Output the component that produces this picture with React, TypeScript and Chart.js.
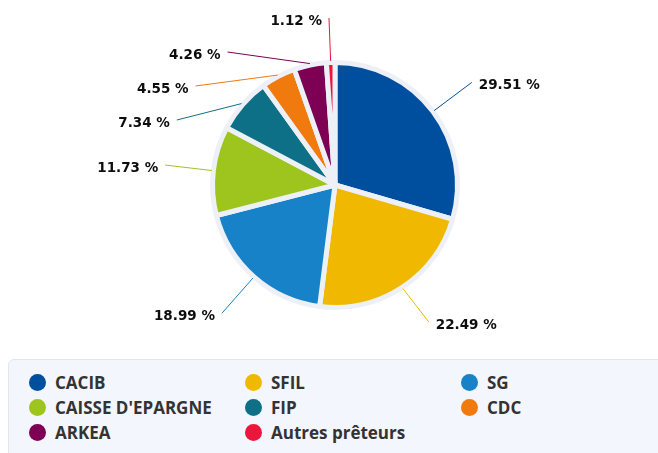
import React, { useEffect, useRef } from "react";
import { Chart, registerables } from "chart.js";

Chart.register(...registerables);

const categories = [
  "CACIB",
  "SFIL",
  "SG",
  "CAISSE D'EPARGNE",
  "FIP",
  "CDC",
  "ARKEA",
  "Autres prêteurs",
];
const shares = [29.51, 22.49, 18.99, 11.73, 7.34, 4.55, 4.26, 1.12];
const sliceColors = [
  "#004e9e",
  "#f0b900",
  "#1882c8",
  "#9ec41e",
  "#0e7086",
  "#f07a0e",
  "#7d0055",
  "#eb163c",
];
const valueLabels = shares.map((v) => v.toFixed(2) + " %");

const RING = "#edf0f6";

const ringPlugin = {
  id: "ringBg",
  beforeDatasetsDraw(chart: any) {
    const arc: any = chart.getDatasetMeta(0).data[0];
    if (!arc) return;
    const ctx = chart.ctx;
    ctx.save();
    ctx.beginPath();
    ctx.arc(arc.x, arc.y, arc.outerRadius + 1.5, 0, Math.PI * 2);
    ctx.fillStyle = RING;
    ctx.fill();
    ctx.restore();
  },
};

const labelPlugin = {
  id: "outsideLabels",
  afterDatasetsDraw(chart: any) {
    const meta = chart.getDatasetMeta(0);
    const ctx = chart.ctx;
    const top = 10;
    const bottom = 314;
    const gap = 34;
    const items = meta.data.map((arc: any, i: number) => {
      const mid = (arc.startAngle + arc.endAngle) / 2;
      const cx = arc.x;
      const cy = arc.y;
      const rEdge = arc.outerRadius + 1.5;
      const rLab = arc.outerRadius + 48.5;
      const c = Math.cos(mid);
      const s = Math.sin(mid);
      return {
        i,
        cx,
        cy,
        rLab,
        sx: cx + c * rEdge,
        sy: cy + s * rEdge,
        nx: cx + c * rLab,
        ny: cy + s * rLab,
        left: c < 0,
        y: 0,
        x: 0,
      };
    });
    [true, false].forEach((side) => {
      const group = items.filter((it: any) => it.left === side).sort((a: any, b: any) => a.ny - b.ny);
      let prev = -Infinity;
      group.forEach((it: any) => {
        it.y = Math.max(it.ny, prev + gap, top);
        prev = it.y;
      });
      let next = Infinity;
      for (let k = group.length - 1; k >= 0; k--) {
        const it = group[k];
        it.y = Math.min(it.y, next - gap, bottom);
        next = it.y;
      }
      group.forEach((it: any) => {
        const clamped = it.y !== it.ny && (it.y <= top + 2 || it.y >= bottom - 2);
        if (clamped) {
          it.x = it.nx;
        } else {
          const dy = it.y - it.cy;
          const dx = Math.sqrt(Math.max(it.rLab * it.rLab - dy * dy, 0));
          it.x = it.cx + (side ? -dx : dx);
        }
      });
    });
    ctx.save();
    items.forEach((it: any) => {
      ctx.beginPath();
      ctx.moveTo(it.sx, it.sy);
      ctx.lineTo(it.x, it.y);
      ctx.strokeStyle = sliceColors[it.i];
      ctx.lineWidth = 1;
      ctx.stroke();
      ctx.font = "bold 13.5px 'DejaVu Sans'";
      ctx.fillStyle = "#0d0d0d";
      ctx.textBaseline = "middle";
      ctx.textAlign = it.left ? "right" : "left";
      ctx.fillText(valueLabels[it.i], it.left ? it.x - 7 : it.x + 7, it.y + 3.5);
    });
    ctx.restore();
  },
};

export default function App() {
  const canvasRef = useRef<HTMLCanvasElement | null>(null);

  useEffect(() => {
    if (!canvasRef.current) return;
    const chart = new Chart(canvasRef.current, {
      type: "pie",
      data: {
        labels: categories,
        datasets: [
          {
            data: shares,
            backgroundColor: sliceColors,
            borderColor: RING,
            borderWidth: 5,
            hoverOffset: 0,
          },
        ],
      },
      options: {
        animation: false,
        responsive: true,
        maintainAspectRatio: false,
        events: [],
        layout: { padding: { left: 202, right: 190, top: 52, bottom: 43 } },
        plugins: {
          legend: { display: false },
          tooltip: { enabled: false },
        },
      },
      plugins: [ringPlugin, labelPlugin],
    } as any);
    return () => chart.destroy();
  }, []);

  return (
    <div style={{ width: 642, height: 345 }}>
      <div style={{ position: "relative", width: 642, height: 345 }}>
        <canvas ref={canvasRef} />
      </div>
      <div
        style={{
          position: "fixed",
          left: 8,
          top: 359,
          width: 670,
          height: 120,
          boxSizing: "border-box",
          border: "1px solid #e1e6ee",
          borderRadius: 6,
          background: "#f3f6fc",
          paddingTop: 10,
          paddingLeft: 20,
          display: "grid",
          gridTemplateColumns: "216px 216px 216px",
          gridAutoRows: "25px",
          fontFamily: "'Open Sans', sans-serif",
          fontWeight: 700,
          fontSize: 17,
          color: "#333333",
        }}
      >
        {categories.map((name, i) => (
          <div key={name} style={{ display: "flex", alignItems: "center", whiteSpace: "nowrap" }}>
            <span
              style={{
                display: "inline-block",
                width: 17,
                height: 17,
                borderRadius: "50%",
                background: sliceColors[i],
                marginRight: 9,
                flex: "none",
              }}
            />
            <span>{name}</span>
          </div>
        ))}
      </div>
    </div>
  );
}
